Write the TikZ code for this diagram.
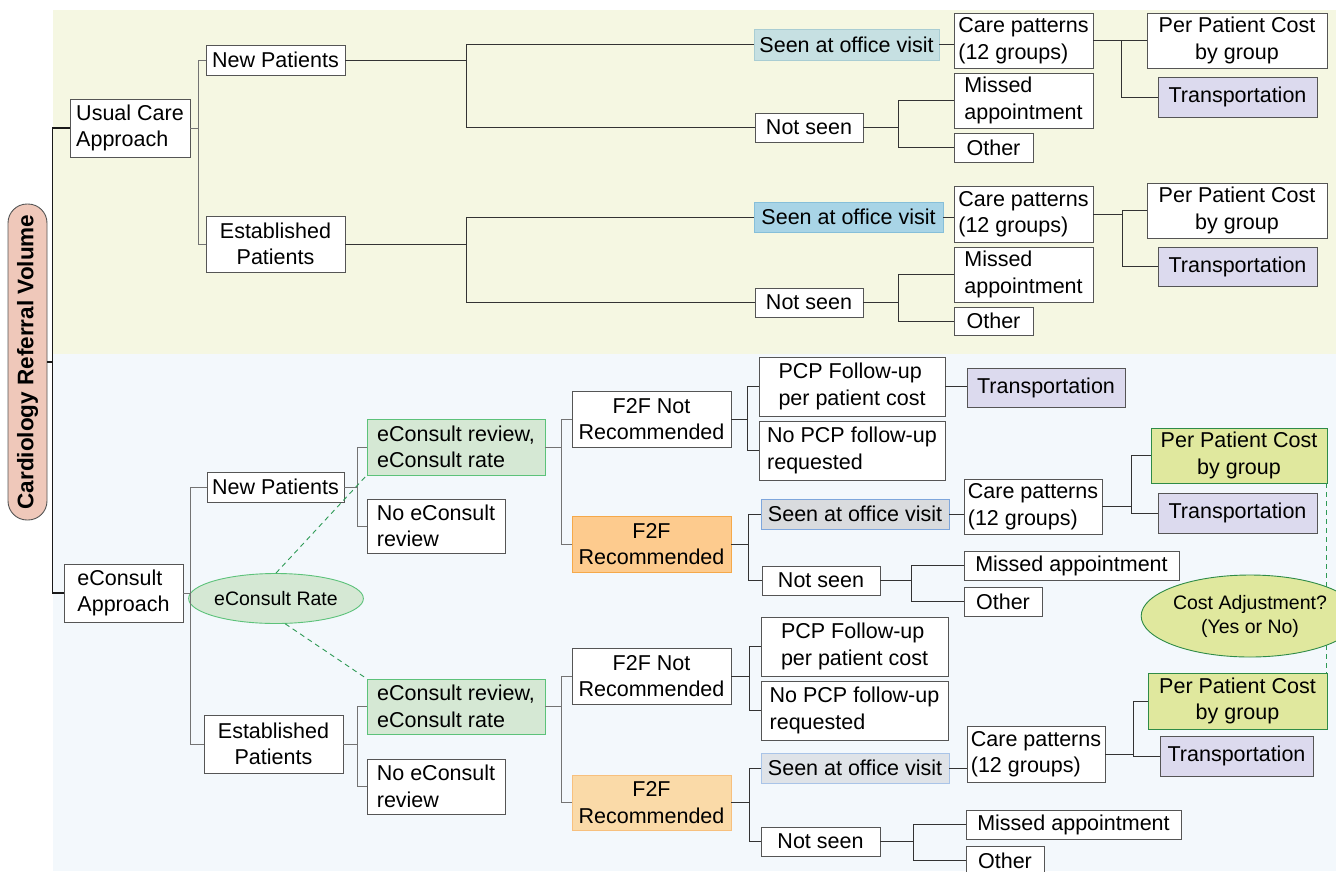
\documentclass[tikz,border=0pt]{standalone}
\usepackage{fontspec}
\setmainfont{Liberation Sans}
\usetikzlibrary{shapes.geometric}
\definecolor{topbg}{HTML}{F5F7E2}
\definecolor{botbg}{HTML}{F3F8FC}
\definecolor{bd}{HTML}{555555}
\definecolor{pillfill}{HTML}{EFC8BA}
\definecolor{teal1}{HTML}{C6E0E2}
\definecolor{teal1bd}{HTML}{A9CDD3}
\definecolor{blue2}{HTML}{A8D4E6}
\definecolor{blue2bd}{HTML}{86BFD9}
\definecolor{lav}{HTML}{DCDAEE}
\definecolor{lgreen}{HTML}{D5E8D4}
\definecolor{gbd}{HTML}{5CC27A}
\definecolor{orange1}{HTML}{FDCB8E}
\definecolor{orange1bd}{HTML}{F5A94A}
\definecolor{orange2}{HTML}{FADAA8}
\definecolor{orange2bd}{HTML}{F7C07E}
\definecolor{gray3}{HTML}{D9DBDE}
\definecolor{gray3bd}{HTML}{7EA6DC}
\definecolor{gray4}{HTML}{DFE3E8}
\definecolor{gray4bd}{HTML}{A9C4E8}
\definecolor{ygreen}{HTML}{E0E89E}
\definecolor{dgreen}{HTML}{2E8B47}
\definecolor{dashg}{HTML}{2E9A55}
\begin{document}
\begin{tikzpicture}[x=1pt,y=-1pt,
  box/.style={draw=bd, fill=white, line width=0.8pt, inner xsep=3pt, inner ysep=0pt,
    font=\fontsize{21.5pt}{26.5pt}\selectfont, text=black, align=center},
  L/.style={align=left},
  sz/.style 2 args={minimum width=#1, minimum height=#2},
  conn/.style={draw=black!80, line width=1pt},
  connl/.style={draw=black!55, line width=0.9pt},
  trunk/.style={draw=black!90, line width=1.5pt},
  greendash/.style={draw=dashg, line width=0.9pt, dash pattern=on 5pt off 4pt},
  oval/.style={ellipse, inner sep=0pt, align=center, font=\fontsize{19.5pt}{24pt}\selectfont},
]
\useasboundingbox (0,0) rectangle (1336,871);
\clip (0,0) rectangle (1336,871);
\fill[white] (0,0) rectangle (1336,871);
\fill[topbg] (53,10) rectangle (1336,354);
\fill[botbg] (53,354) rectangle (1336,871);

% pill
\node[draw=bd, fill=pillfill, line width=0.9pt, rounded corners=19pt, rotate=90,
  minimum width=316pt, minimum height=39pt, inner sep=0pt,
  font=\bfseries\fontsize{22.5pt}{26pt}\selectfont] (pill) at (27.5,362) {Cardiology Referral Volume};

% ---------------- top section
\node[box, L, sz={120pt}{58pt}] (uc) at (130,128) {Usual Care\\Approach};
\node[box, sz={139pt}{30pt}] (np1) at (275.5,60) {New Patients};
\node[box, sz={139pt}{56pt}] (ep1) at (275.5,244) {Established\\Patients};

\node[box, fill=teal1, draw=teal1bd, sz={185pt}{31pt}] (seen1) at (846.5,44.5) {Seen at office visit};
\node[box, L, sz={139pt}{55pt}] (care1) at (1023.5,40.5) {Care patterns\\(12 groups)};
\node[box, sz={180pt}{55pt}] (ppc1) at (1237,40.5) {Per Patient Cost\\by group};
\node[box, fill=lav, sz={159pt}{40pt}] (tr1) at (1237.5,97) {Transportation};
\node[box, sz={108pt}{29pt}] (ns1) at (809,127.5) {Not seen};
\node[box, L, sz={139pt}{55pt}] (ma1) at (1023.5,100.5) {Missed\\appointment};
\node[box, sz={79pt}{29pt}] (ot1) at (993.5,147.5) {Other};

\node[box, fill=blue2, draw=blue2bd, sz={189pt}{30pt}] (seen2) at (848.5,217) {Seen at office visit};
\node[box, L, sz={139pt}{56pt}] (care2) at (1023.5,214) {Care patterns\\(12 groups)};
\node[box, sz={180pt}{55pt}] (ppc2) at (1237,210.5) {Per Patient Cost\\by group};
\node[box, fill=lav, sz={159pt}{39pt}] (tr2) at (1237.5,266.5) {Transportation};
\node[box, sz={108pt}{29pt}] (ns2) at (809,302.5) {Not seen};
\node[box, L, sz={139pt}{55pt}] (ma2) at (1023.5,274.5) {Missed\\appointment};
\node[box, sz={79pt}{28pt}] (ot2) at (993.5,321) {Other};

% ---------------- bottom section
\node[box, L, sz={119pt}{58pt}] (ec) at (123.5,593) {eConsult\\Approach};
\node[box, sz={137pt}{30pt}] (np2) at (275.5,487) {New Patients};
\node[box, sz={139pt}{58pt}] (ep2) at (273.5,744) {Established\\Patients};
\node[oval, draw=gbd, fill=lgreen, line width=0.9pt, minimum width=146pt, minimum height=50pt] (rate) at (276,598.5) {eConsult Rate};

\node[box, L, fill=lgreen, draw=gbd, sz={178pt}{56pt}] (ecr1) at (456,447) {eConsult review,\\eConsult rate};
\node[box, L, sz={138pt}{54pt}] (nor1) at (436,526) {No eConsult\\review};
\node[box, L, fill=lgreen, draw=gbd, sz={178pt}{55pt}] (ecr2) at (456,706.5) {eConsult review,\\eConsult rate};
\node[box, L, sz={138pt}{55pt}] (nor2) at (436,786.5) {No eConsult\\review};

\node[box, sz={159pt}{56pt}] (fnr1) at (651.5,419) {F2F Not\\Recommended};
\node[box, fill=orange1, draw=orange1bd, sz={159pt}{56pt}] (fr1) at (651.5,544) {F2F\\Recommended};
\node[box, L, sz={186pt}{59pt}] (pcp1) at (852,386.5) {PCP Follow-up\\per patient cost};
\node[box, fill=lav, sz={158pt}{39pt}] (tr3) at (1046,387.5) {Transportation};
\node[box, L, sz={186pt}{59pt}] (npcp1) at (852,450.5) {No PCP follow-up\\requested};
\node[box, fill=gray3, draw=gray3bd, sz={188pt}{30pt}] (seen3) at (855,514) {Seen at office visit};
\node[box, L, sz={138pt}{55pt}] (care3) at (1033,506.5) {Care patterns\\(12 groups)};
\node[box, fill=ygreen, draw=dgreen, sz={176pt}{55pt}] (ppc3) at (1239,455.5) {Per Patient Cost\\by group};
\node[box, fill=lav, sz={159pt}{40pt}] (tr4) at (1237.5,513) {Transportation};
\node[box, sz={118pt}{29pt}] (ns3) at (821,580.5) {Not seen};
\node[box, sz={215pt}{29pt}] (ma3) at (1071.5,565.5) {Missed appointment};
\node[box, sz={78pt}{29pt}] (ot3) at (1003,601.5) {Other};

\node[box, sz={159pt}{56pt}] (fnr2) at (651.5,676) {F2F Not\\Recommended};
\node[box, fill=orange2, draw=orange2bd, sz={159pt}{55pt}] (fr2) at (651.5,802.5) {F2F\\Recommended};
\node[box, L, sz={187pt}{59pt}] (pcp2) at (854.5,646.5) {PCP Follow-up\\per patient cost};
\node[box, L, sz={187pt}{59pt}] (npcp2) at (854.5,710.5) {No PCP follow-up\\requested};
\node[box, fill=gray4, draw=gray4bd, sz={188pt}{30pt}] (seen4) at (855,768) {Seen at office visit};
\node[box, L, sz={138pt}{56pt}] (care4) at (1036,754) {Care patterns\\(12 groups)};
\node[box, fill=ygreen, draw=dgreen, sz={179pt}{56pt}] (ppc4) at (1237.5,701) {Per Patient Cost\\by group};
\node[box, fill=lav, sz={153pt}{40pt}] (tr5) at (1236.5,756) {Transportation};
\node[box, sz={119pt}{29pt}] (ns4) at (820.5,841.5) {Not seen};
\node[box, sz={215pt}{29pt}] (ma4) at (1073.5,824.5) {Missed appointment};
\node[box, sz={78pt}{29pt}] (ot4) at (1005,860.5) {Other};

% ---------------- connectors
\draw[trunk] (pill.south) -- ++(6,0);
\draw[trunk] (uc.west) -- ++(-17,0) |- (ec.west);

\draw[connl] (uc.east) -- ++(8,0) |- (np1.west);
\draw[connl] (uc.east) -- ++(8,0) |- (ep1.west);
\draw[conn] (np1.east) -- ++(121,0) |- (seen1.west);
\draw[conn] (np1.east) -- ++(121,0) |- (ns1.west);
\draw[conn] (ep1.east) -- ++(121,0) |- (seen2.west);
\draw[conn] (ep1.east) -- ++(121,0) |- (ns2.west);
\draw[conn] (seen1.east) -- (seen1.east -| care1.west);
\draw[conn] (seen2.east) -- (seen2.east -| care2.west);
\draw[conn] (care1.east) -- ++(28,0) |- (ppc1.west);
\draw[conn] (care1.east) -- ++(28,0) |- (tr1.west);
\draw[conn] (care2.east) -- ++(29,0) |- (ppc2.west);
\draw[conn] (care2.east) -- ++(29,0) |- (tr2.west);
\draw[conn] (ns1.east) -- ++(35,0) |- (ma1.west);
\draw[conn] (ns1.east) -- ++(35,0) |- (ot1.west);
\draw[conn] (ns2.east) -- ++(35,0) |- (ma2.west);
\draw[conn] (ns2.east) -- ++(35,0) |- (ot2.west);

\draw[connl] (ec.east) -- ++(7,0) |- (np2.west);
\draw[connl] (ec.east) -- ++(7,0) |- (ep2.west);
\draw[connl] (np2.east) -- ++(13,0) |- (ecr1.west);
\draw[connl] (np2.east) -- ++(13,0) |- (nor1.west);
\draw[connl] (ep2.east) -- ++(14,0) |- (ecr2.west);
\draw[connl] (ep2.east) -- ++(14,0) |- (nor2.west);
\draw[connl] (ecr1.east) -- ++(16,0) |- (fnr1.west);
\draw[connl] (ecr1.east) -- ++(16,0) |- (fr1.west);
\draw[connl] (ecr2.east) -- ++(16,0) |- (fnr2.west);
\draw[connl] (ecr2.east) -- ++(16,0) |- (fr2.west);

\draw[conn] (fnr1.east) -- ++(16,0) |- (pcp1.west);
\draw[conn] (fnr1.east) -- ++(16,0) |- (npcp1.west);
\draw[conn] (pcp1.east) -- (pcp1.east -| tr3.west);
\draw[conn] (fr1.east) -- ++(17,0) |- (seen3.west);
\draw[conn] (fr1.east) -- ++(17,0) |- (ns3.west);
\draw[conn] (seen3.east) -- (seen3.east -| care3.west);
\draw[conn] (care3.east) -- ++(29,0) |- (ppc3.west);
\draw[conn] (care3.east) -- ++(29,0) |- (tr4.west);
\draw[conn] (ns3.east) -- ++(31,0) |- (ma3.west);
\draw[conn] (ns3.east) -- ++(31,0) |- (ot3.west);

\draw[conn] (fnr2.east) -- ++(18,0) |- (pcp2.west);
\draw[conn] (fnr2.east) -- ++(18,0) |- (npcp2.west);
\draw[conn] (fr2.east) -- ++(18,0) |- (seen4.west);
\draw[conn] (fr2.east) -- ++(18,0) |- (ns4.west);
\draw[conn] (seen4.east) -- (seen4.east -| care4.west);
\draw[conn] (care4.east) -- ++(28,0) |- (ppc4.west);
\draw[conn] (care4.east) -- ++(28,0) |- (tr5.west);
\draw[conn] (ns4.east) -- ++(33,0) |- (ma4.west);
\draw[conn] (ns4.east) -- ++(33,0) |- (ot4.west);

\draw[greendash] (rate.north) -- (ecr1.south west);
\draw[greendash] (rate.-70) -- (ecr2.north west);
\draw[greendash] ([xshift=-1pt]ppc3.south east) -- ([xshift=-1pt]ppc4.north east);

\node[oval, draw=dgreen, fill=ygreen, line width=0.9pt, minimum width=210pt, minimum height=82pt] (cost) at (1250,616) {Cost Adjustment?\\(Yes or No)};
\end{tikzpicture}
\end{document}
